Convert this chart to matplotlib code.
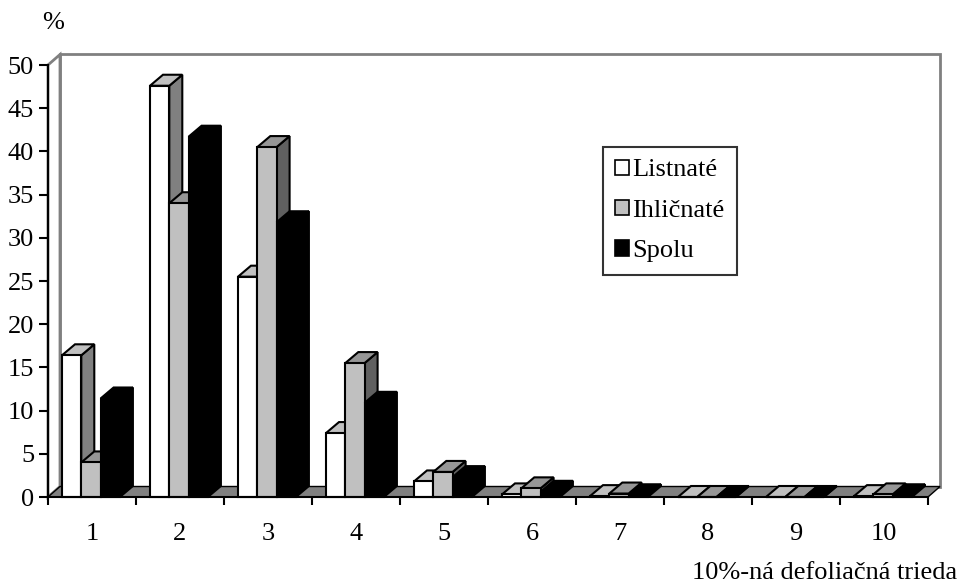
import numpy as np
import matplotlib
matplotlib.use('Agg')
import matplotlib.pyplot as plt
from matplotlib.patches import Polygon, Patch

plt.rcParams['font.family'] = ['Liberation Serif', 'DejaVu Serif']

cats = ['1', '2', '3', '4', '5', '6', '7', '8', '9', '10']
listnate = [16.4, 47.6, 25.5, 7.4, 1.8, 0.3, 0.1, 0.0, 0.0, 0.1]
ihlicnate = [4.0, 34.0, 40.5, 15.5, 2.9, 1.0, 0.4, 0.0, 0.0, 0.3]
spolu = [11.4, 41.7, 31.8, 10.9, 2.3, 0.6, 0.2, 0.0, 0.0, 0.2]
names = ['Listnaté', 'Ihličnaté', 'Spolu']

# face colours: front, top, side
styles = [('white', '#c0c0c0', '#808080'),
          ('#c0c0c0', '#969696', '#606060'),
          ('black', 'black', 'black')]

FS = 19
W, H = 959, 583
fig = plt.figure(figsize=(W / 100, H / 100), dpi=100)
ax = fig.add_axes([48 / W, (H - 497) / H, 880 / W, 432 / H])
ax.set_xlim(0, 10)
ax.set_ylim(0, 50)
ax.patch.set_visible(False)

px_x = 10 / 880.0   # data per pixel
px_y = 50 / 432.0
WDX, WDY = 12 * px_x, 10.5 * px_y   # wall depth
BDX, BDY = 13 * px_x, 11 * px_y     # bar depth

def poly(pts, fc, ec, lw=1.2, z=1):
    ax.add_patch(Polygon(pts, closed=True, facecolor=fc, edgecolor=ec,
                         linewidth=lw, zorder=z, clip_on=False, joinstyle='miter'))

# walls and floor
poly([(WDX, WDY), (10 + WDX, WDY), (10 + WDX, 50 + WDY), (WDX, 50 + WDY)],
     'white', '#808080', 2, 0.5)
poly([(0, 0), (WDX, WDY), (WDX, 50 + WDY), (0, 50)], 'white', '#808080', 2, 0.6)
poly([(0, 0), (10, 0), (10 + WDX, WDY), (WDX, WDY)], '#808080', 'black', 1, 0.8)

off = 14 / 88.0
bw = 19.3 / 88.0
z = 2
for i in range(len(cats)):
    for s, vals in enumerate([listnate, ihlicnate, spolu]):
        x0 = i + off + s * bw
        h = vals[i]
        front, top, side = styles[s]
        poly([(x0 + bw, 0), (x0 + bw + BDX, BDY), (x0 + bw + BDX, h + BDY), (x0 + bw, h)],
             side, 'black', 1.5, z)
        poly([(x0, h), (x0 + bw, h), (x0 + bw + BDX, h + BDY), (x0 + BDX, h + BDY)],
             top, 'black', 1.5, z + 0.1)
        poly([(x0, 0), (x0 + bw, 0), (x0 + bw, h), (x0, h)], front, 'black', 1.5, z + 0.2)
        z += 0.5

for sp in ['top', 'right']:
    ax.spines[sp].set_visible(False)
for sp in ['left', 'bottom']:
    ax.spines[sp].set_linewidth(1.5)
    ax.spines[sp].set_zorder(50)

ax.set_yticks(np.arange(0, 51, 5))
ax.set_xticks(np.arange(0, 11))
ax.set_xticklabels([])
ax.set_xticks(np.arange(10) + 0.5, minor=True)
ax.set_xticklabels(cats, minor=True)
ax.tick_params(axis='x', which='major', direction='out', length=6, width=1.5)
ax.tick_params(axis='x', which='minor', length=0, pad=19, labelsize=FS)
ax.tick_params(axis='y', direction='out', length=6.5, width=1.5, pad=3.5, labelsize=FS)

fig.text(53 / W, 1 - 23 / H, '%', fontsize=FS, ha='center', va='center')
fig.text(957 / W, 1 - 579 / H, '10%-ná defoliačná trieda', fontsize=FS,
         ha='right', va='baseline')

handles = [Patch(facecolor=st[0], edgecolor='black', linewidth=1.2) for st in styles]
leg = fig.legend(handles, names, loc='upper left',
                 bbox_to_anchor=(603 / W, 1 - 147 / H), borderaxespad=0,
                 fontsize=FS, frameon=True, fancybox=False, edgecolor='black',
                 handlelength=0.5, handleheight=0.5, handletextpad=0.15,
                 labelspacing=0.7, borderpad=0.47)
leg.get_frame().set_linewidth(1.5)

fig.savefig('out.png', dpi=100)
